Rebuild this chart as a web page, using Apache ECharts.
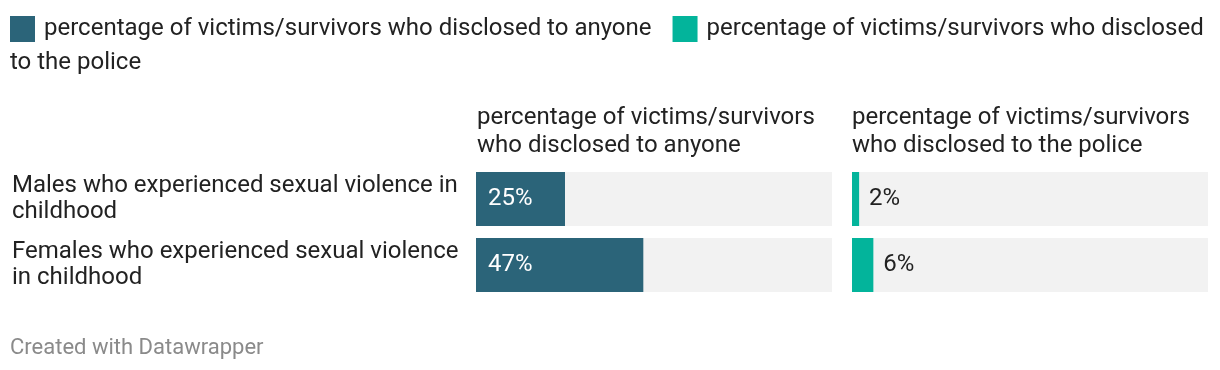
<!DOCTYPE html>
<html>
<head>
<meta charset="utf-8">
<script src="https://cdn.jsdelivr.net/npm/echarts@6/dist/echarts.min.js"></script>
<style>
html,body{margin:0;padding:0;background:#fff;}
#chart{width:1220px;height:370px;}
</style>
</head>
<body>
<div id="chart"></div>
<script>
const categories = [
  "Males who experienced sexual violence in\nchildhood",
  "Females who experienced sexual violence\nin childhood"
];
const seriesNames = [
  "percentage of victims/survivors who disclosed to anyone",
  "percentage of victims/survivors who disclosed to the police"
];
const disclosedAnyone = [25, 47];
const disclosedPolice = [2, 6];
const colors = ["#2b6479", "#03b49b"];

const FONT = "Roboto, 'Noto Sans', sans-serif";
const TXT = "#222222";

const chart = echarts.init(document.getElementById('chart'), null, {renderer: 'canvas'});

function header(name) { return name.replace(' who', '\nwho'); }

const grids = [
  {left: 476, top: 166, width: 356, height: 132},
  {left: 852, top: 166, width: 356, height: 132}
];

const option = {
  animation: false,
  backgroundColor: '#ffffff',
  textStyle: {fontFamily: FONT},
  legend: {
    left: 10, top: 16, padding: 0,
    icon: 'rect',
    itemWidth: 25, itemHeight: 26,
    itemGap: 21,
    selectedMode: false,
    data: seriesNames,
    formatter: function (n) { return n === seriesNames[1] ? n.replace(' to the police', '') : n; },
    textStyle: {fontFamily: FONT, fontSize: 24, color: TXT, padding: [0, 0, 0, 4]}
  },
  grid: grids,
  xAxis: grids.map((g, i) => ({
    gridIndex: i, type: 'value', min: 0, max: 100, show: false
  })),
  yAxis: grids.map((g, i) => ({
    gridIndex: i, type: 'category', data: categories, inverse: true,
    axisLine: {show: false}, axisTick: {show: false}, splitLine: {show: false},
    axisLabel: i === 0 ? {
      show: true, align: 'left', margin: 464,
      fontFamily: FONT, fontSize: 24, lineHeight: 26, color: TXT
    } : {show: false}
  })),
  series: [
    {
      name: seriesNames[0], type: 'bar', xAxisIndex: 0, yAxisIndex: 0,
      data: disclosedAnyone, barWidth: 54,
      itemStyle: {color: colors[0]},
      showBackground: true, backgroundStyle: {color: '#f2f2f2'},
      label: {show: true, position: 'insideLeft', distance: 12, formatter: '{c}%',
        fontFamily: FONT, fontSize: 24, color: '#ffffff'}
    },
    {
      name: seriesNames[1], type: 'bar', xAxisIndex: 1, yAxisIndex: 1,
      data: disclosedPolice, barWidth: 54,
      itemStyle: {color: colors[1]},
      showBackground: true, backgroundStyle: {color: '#f2f2f2'},
      label: {show: true, position: 'right', distance: 10, formatter: '{c}%',
        fontFamily: FONT, fontSize: 24, color: TXT}
    }
  ],
  graphic: [
    {type: 'text', left: 10, top: 51, style: {text: 'to the police', font: '24px ' + FONT, fill: TXT}},
    {type: 'text', left: 477, top: 104, style: {text: header(seriesNames[0]), font: '24px ' + FONT, lineHeight: 28, fill: TXT}},
    {type: 'text', left: 852, top: 104, style: {text: header(seriesNames[1]), font: '24px ' + FONT, lineHeight: 28, fill: TXT}},
    {type: 'text', left: 10, top: 337, style: {text: 'Created with Datawrapper', font: '22px ' + FONT, fill: '#8a8a8a'}}
  ]
};
chart.setOption(option);
</script>
</body>
</html>
